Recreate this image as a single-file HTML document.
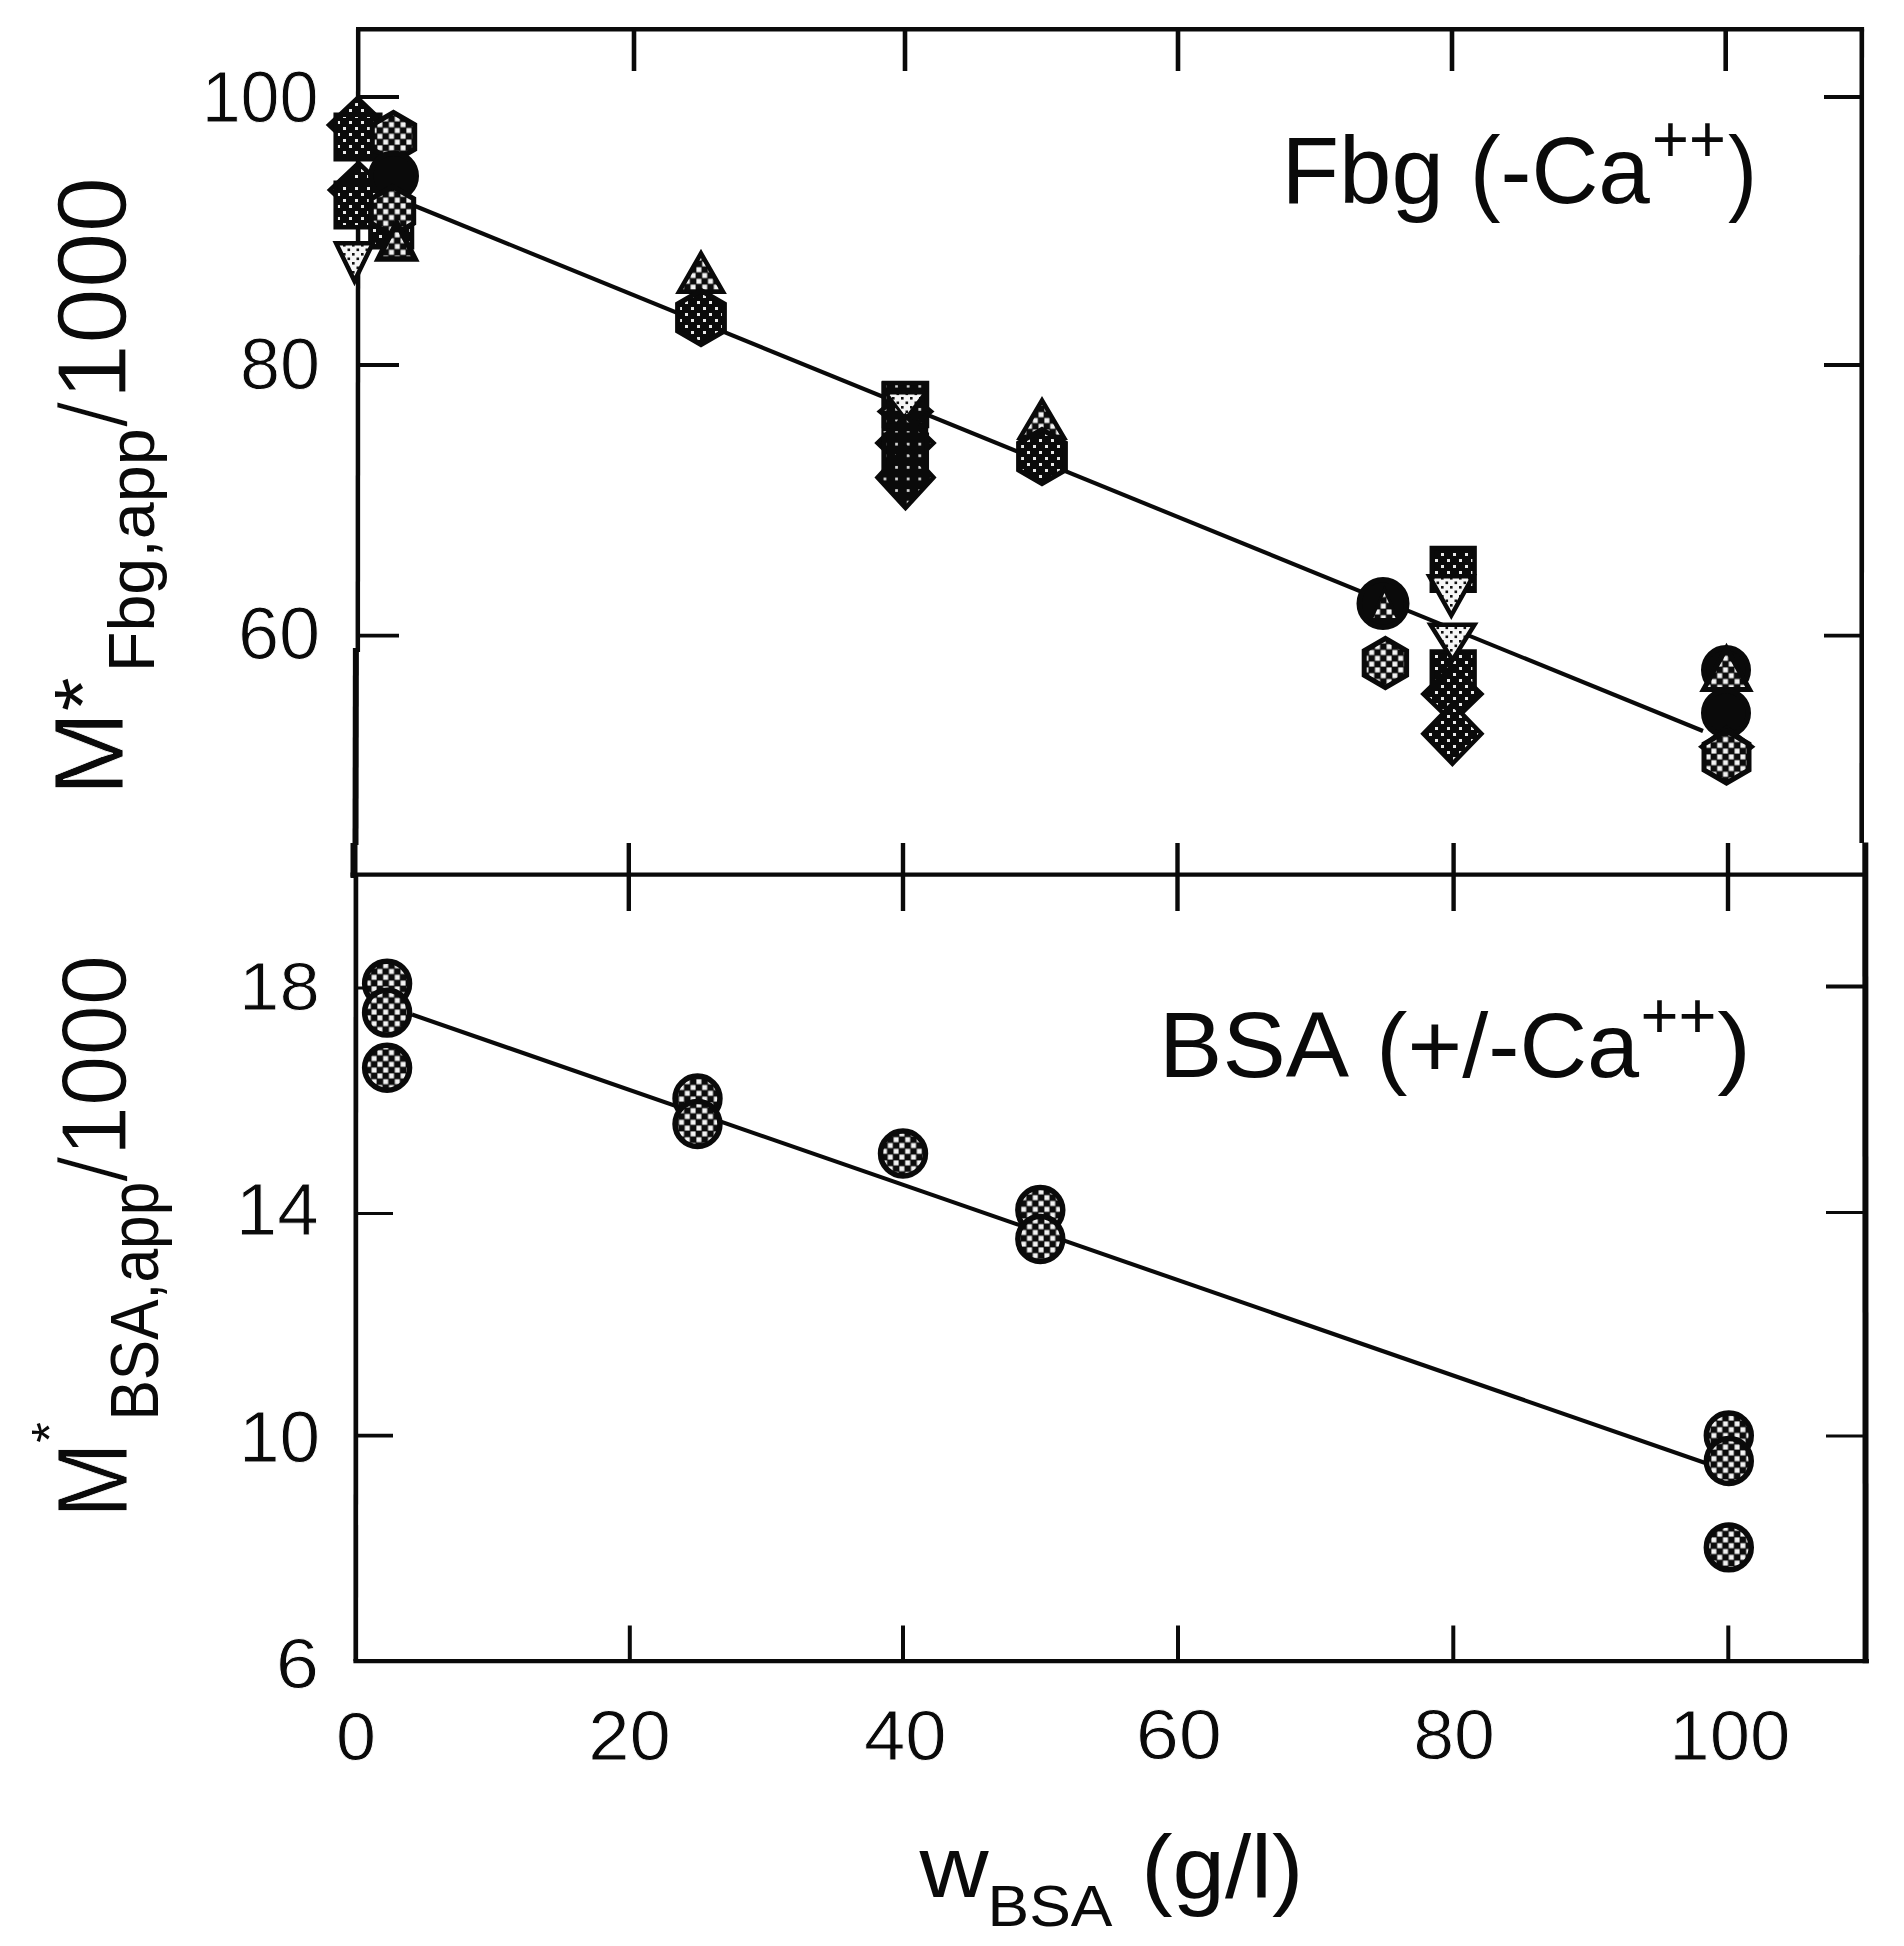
<!DOCTYPE html>
<html><head><meta charset="utf-8"><title>Apparent molecular weight vs BSA concentration</title>
<style>
html,body{margin:0;padding:0;background:#fff;overflow:hidden;width:1904px;height:1946px;}
svg{display:block;}
text{font-family:"Liberation Sans",sans-serif;fill:#0a0a0a;}
</style></head><body>
<svg width="1904" height="1946" viewBox="0 0 1904 1946">
<defs>
<pattern id="chk" width="11.6" height="11.6" patternUnits="userSpaceOnUse">
<rect width="11.6" height="11.6" fill="#0c0c0c"/>
<rect x="0.4" y="0.4" width="5" height="5" fill="#f2f2f2"/>
<rect x="6.2" y="6.2" width="5" height="5" fill="#f2f2f2"/>
</pattern>
<pattern id="dk" width="12" height="12" patternUnits="userSpaceOnUse">
<rect width="12" height="12" fill="#0a0a0a"/>
<rect x="1" y="1" width="3" height="3" fill="#e8e8e8"/>
<rect x="7" y="7" width="3" height="3" fill="#e8e8e8"/>
</pattern>
<pattern id="dk2" width="11.6" height="11.6" patternUnits="userSpaceOnUse">
<rect width="11.6" height="11.6" fill="#0a0a0a"/>
<rect x="2" y="2" width="2.7" height="2.7" fill="#ddd"/>
</pattern>
<pattern id="lt" width="9" height="9" patternUnits="userSpaceOnUse">
<rect width="9" height="9" fill="#f6f6f6"/>
<rect x="1" y="1" width="2.6" height="2.6" fill="#111"/>
<rect x="5.5" y="5.5" width="2.6" height="2.6" fill="#111"/>
</pattern>
</defs>
<rect width="1904" height="1946" fill="#fff"/>

<line x1="356.0" y1="29.3" x2="1864.1" y2="29.3" stroke="#0a0a0a" stroke-width="4.4" stroke-linecap="butt"/>
<line x1="350.5" y1="874.6" x2="1863" y2="874.6" stroke="#0a0a0a" stroke-width="4.3" stroke-linecap="butt"/>
<line x1="353.40000000000003" y1="1661.2" x2="1868.9" y2="1661.2" stroke="#0a0a0a" stroke-width="4.3" stroke-linecap="butt"/>
<line x1="358.2" y1="29.3" x2="357.8" y2="652" stroke="#0a0a0a" stroke-width="4.5" stroke-linecap="butt"/>
<line x1="355.9" y1="648" x2="355.5" y2="845" stroke="#0a0a0a" stroke-width="6.0" stroke-linecap="butt"/>
<line x1="354.0" y1="843" x2="354.0" y2="878" stroke="#0a0a0a" stroke-width="7" stroke-linecap="butt"/>
<line x1="355.9" y1="876" x2="355.8" y2="1661.2" stroke="#0a0a0a" stroke-width="4.7" stroke-linecap="butt"/>
<line x1="1861.8" y1="29.3" x2="1861.7" y2="843" stroke="#0a0a0a" stroke-width="4.6" stroke-linecap="butt"/>
<line x1="1865.3" y1="842.6" x2="1865.6" y2="1663.2" stroke="#0a0a0a" stroke-width="6.0" stroke-linecap="butt"/>
<line x1="634" y1="29.3" x2="634" y2="71" stroke="#0a0a0a" stroke-width="4.6" stroke-linecap="butt"/>
<line x1="905" y1="29.3" x2="905" y2="71" stroke="#0a0a0a" stroke-width="4.6" stroke-linecap="butt"/>
<line x1="1178" y1="29.3" x2="1178" y2="71" stroke="#0a0a0a" stroke-width="4.6" stroke-linecap="butt"/>
<line x1="1452" y1="29.3" x2="1452" y2="71" stroke="#0a0a0a" stroke-width="4.6" stroke-linecap="butt"/>
<line x1="1725.7" y1="29.3" x2="1725.7" y2="71" stroke="#0a0a0a" stroke-width="4.6" stroke-linecap="butt"/>
<line x1="628.8" y1="843" x2="628.8" y2="911" stroke="#0a0a0a" stroke-width="4.4" stroke-linecap="butt"/>
<line x1="903" y1="843" x2="903" y2="911" stroke="#0a0a0a" stroke-width="4.4" stroke-linecap="butt"/>
<line x1="1177.5" y1="843" x2="1177.5" y2="911" stroke="#0a0a0a" stroke-width="4.4" stroke-linecap="butt"/>
<line x1="1453.6" y1="843" x2="1453.6" y2="911" stroke="#0a0a0a" stroke-width="4.4" stroke-linecap="butt"/>
<line x1="1728" y1="843" x2="1728" y2="911" stroke="#0a0a0a" stroke-width="4.4" stroke-linecap="butt"/>
<line x1="629.8" y1="1625.5" x2="629.8" y2="1661.2" stroke="#0a0a0a" stroke-width="4" stroke-linecap="butt"/>
<line x1="903" y1="1625.5" x2="903" y2="1661.2" stroke="#0a0a0a" stroke-width="4" stroke-linecap="butt"/>
<line x1="1178" y1="1625.5" x2="1178" y2="1661.2" stroke="#0a0a0a" stroke-width="4" stroke-linecap="butt"/>
<line x1="1453.3" y1="1625.5" x2="1453.3" y2="1661.2" stroke="#0a0a0a" stroke-width="4" stroke-linecap="butt"/>
<line x1="1728.3" y1="1625.5" x2="1728.3" y2="1661.2" stroke="#0a0a0a" stroke-width="4" stroke-linecap="butt"/>
<line x1="358.2" y1="97" x2="399" y2="97" stroke="#0a0a0a" stroke-width="3.8" stroke-linecap="butt"/>
<line x1="1824" y1="97" x2="1861.8" y2="97" stroke="#0a0a0a" stroke-width="3.8" stroke-linecap="butt"/>
<line x1="358.2" y1="365" x2="399" y2="365" stroke="#0a0a0a" stroke-width="3.8" stroke-linecap="butt"/>
<line x1="1824" y1="365" x2="1861.8" y2="365" stroke="#0a0a0a" stroke-width="3.8" stroke-linecap="butt"/>
<line x1="358.2" y1="635.6" x2="399" y2="635.6" stroke="#0a0a0a" stroke-width="3.8" stroke-linecap="butt"/>
<line x1="1824" y1="635.6" x2="1861.8" y2="635.6" stroke="#0a0a0a" stroke-width="3.8" stroke-linecap="butt"/>
<line x1="355.8" y1="988" x2="393" y2="988" stroke="#0a0a0a" stroke-width="3.2" stroke-linecap="butt"/>
<line x1="1826" y1="986.5" x2="1865.5" y2="986.5" stroke="#0a0a0a" stroke-width="4" stroke-linecap="butt"/>
<line x1="355.8" y1="1213.5" x2="393" y2="1213.5" stroke="#0a0a0a" stroke-width="3.0" stroke-linecap="butt"/>
<line x1="1826" y1="1212.5" x2="1865.5" y2="1212.5" stroke="#0a0a0a" stroke-width="3.0" stroke-linecap="butt"/>
<line x1="355.8" y1="1435.7" x2="393" y2="1435.7" stroke="#0a0a0a" stroke-width="3.8" stroke-linecap="butt"/>
<line x1="1826" y1="1436" x2="1865.5" y2="1436" stroke="#0a0a0a" stroke-width="3.2" stroke-linecap="butt"/>
<line x1="415" y1="206" x2="1703" y2="731" stroke="#0a0a0a" stroke-width="4.1" stroke-linecap="butt"/>
<line x1="412" y1="1014.5" x2="1704.6" y2="1462.7" stroke="#0a0a0a" stroke-width="4.1" stroke-linecap="butt"/>
<circle cx="387.1" cy="983.6" r="22.45" fill="url(#chk)" stroke="#0a0a0a" stroke-width="5.5"/>
<circle cx="387.1" cy="1012.6" r="22.45" fill="url(#chk)" stroke="#0a0a0a" stroke-width="5.5"/>
<circle cx="387.1" cy="1067.7" r="22.45" fill="url(#chk)" stroke="#0a0a0a" stroke-width="5.5"/>
<circle cx="697.5" cy="1098.5" r="22.45" fill="url(#chk)" stroke="#0a0a0a" stroke-width="5.5"/>
<circle cx="697.5" cy="1124" r="22.45" fill="url(#chk)" stroke="#0a0a0a" stroke-width="5.5"/>
<circle cx="903" cy="1153.5" r="22.45" fill="url(#chk)" stroke="#0a0a0a" stroke-width="5.5"/>
<circle cx="1040.3" cy="1210" r="22.45" fill="url(#chk)" stroke="#0a0a0a" stroke-width="5.5"/>
<circle cx="1040.3" cy="1239" r="22.45" fill="url(#chk)" stroke="#0a0a0a" stroke-width="5.5"/>
<circle cx="1728.8" cy="1435.5" r="22.45" fill="url(#chk)" stroke="#0a0a0a" stroke-width="5.5"/>
<circle cx="1728.8" cy="1461" r="22.45" fill="url(#chk)" stroke="#0a0a0a" stroke-width="5.5"/>
<circle cx="1728.8" cy="1547.4" r="22.45" fill="url(#chk)" stroke="#0a0a0a" stroke-width="5.5"/>
<polygon points="357.5,98.0 386.0,125.0 357.5,152.0 329.0,125.0" fill="url(#dk)" stroke="#0a0a0a" stroke-width="4.5" stroke-linejoin="miter"/>
<polygon points="335.7,114.7 380.3,114.7 380.3,159.3 335.7,159.3" fill="url(#dk)" stroke="#0a0a0a" stroke-width="4.5" stroke-linejoin="miter"/>
<polygon points="393.5,112.5 414.7,124.8 414.7,149.2 393.5,161.5 372.3,149.2 372.3,124.8" fill="url(#chk)" stroke="#0a0a0a" stroke-width="5" stroke-linejoin="miter"/>
<polygon points="358.5,163.0 387.0,190.0 358.5,217.0 330.0,190.0" fill="url(#dk)" stroke="#0a0a0a" stroke-width="4.5" stroke-linejoin="miter"/>
<polygon points="335.7,182.7 380.3,182.7 380.3,227.3 335.7,227.3" fill="url(#dk)" stroke="#0a0a0a" stroke-width="4.5" stroke-linejoin="miter"/>
<circle cx="393.5" cy="176" r="22.75" fill="#0a0a0a" stroke="#0a0a0a" stroke-width="5.5"/>
<polygon points="370.4,205.7 412.0,205.7 412.0,247.3 370.4,247.3" fill="url(#dk)" stroke="#0a0a0a" stroke-width="4.5" stroke-linejoin="miter"/>
<polygon points="392.5,186.5 413.7,198.8 413.7,223.2 392.5,235.5 371.3,223.2 371.3,198.8" fill="url(#chk)" stroke="#0a0a0a" stroke-width="5" stroke-linejoin="miter"/>
<polygon points="396.6,222.6 415.1,258.9 378.2,258.9" fill="url(#chk)" stroke="#0a0a0a" stroke-width="5.5" stroke-linejoin="miter"/>
<polygon points="336.1,243.2 372.9,243.2 354.5,281.1" fill="url(#lt)" stroke="#0a0a0a" stroke-width="4.5" stroke-linejoin="miter"/>
<polygon points="701.0,253.4 723.0,291.8 679.0,291.8" fill="url(#chk)" stroke="#0a0a0a" stroke-width="4.5" stroke-linejoin="miter"/>
<polygon points="701.0,290.5 724.4,304.0 724.4,331.0 701.0,344.5 677.6,331.0 677.6,304.0" fill="url(#dk)" stroke="#0a0a0a" stroke-width="5" stroke-linejoin="miter"/>
<rect x="881.4" y="381.3" width="46.8" height="95" fill="url(#dk2)" stroke="#0a0a0a" stroke-width="0"/>
<polygon points="884.0,382.9 927.0,382.9 927.0,426.1 884.0,426.1" fill="url(#dk2)" stroke="#0a0a0a" stroke-width="4.5" stroke-linejoin="miter"/>
<polygon points="905.5,390.5 931.0,411.5 905.5,432.5 880.0,411.5" fill="url(#dk2)" stroke="#0a0a0a" stroke-width="4.5" stroke-linejoin="miter"/>
<polygon points="886.2,393.0 924.8,393.0 905.5,418.7" fill="url(#lt)" stroke="#0a0a0a" stroke-width="3" stroke-linejoin="miter"/>
<polygon points="905.5,416.0 933.5,443.0 905.5,470.0 877.5,443.0" fill="url(#dk2)" stroke="#0a0a0a" stroke-width="4.5" stroke-linejoin="miter"/>
<polygon points="884.2,434.7 926.8,434.7 926.8,477.3 884.2,477.3" fill="url(#dk2)" stroke="#0a0a0a" stroke-width="4.5" stroke-linejoin="miter"/>
<polygon points="905.5,447.0 933.5,477.5 905.5,508.0 877.5,477.5" fill="url(#dk2)" stroke="#0a0a0a" stroke-width="4.5" stroke-linejoin="miter"/>
<polygon points="1042.0,400.4 1064.0,437.8 1020.0,437.8" fill="url(#chk)" stroke="#0a0a0a" stroke-width="4.5" stroke-linejoin="miter"/>
<polygon points="1042.0,429.5 1065.4,443.0 1065.4,470.0 1042.0,483.5 1018.6,470.0 1018.6,443.0" fill="url(#dk)" stroke="#0a0a0a" stroke-width="5" stroke-linejoin="miter"/>
<circle cx="1383" cy="603.5" r="23.75" fill="#0a0a0a" stroke="#0a0a0a" stroke-width="5.5"/>
<polygon points="1384.5,589.3 1397.8,619.5 1371.2,619.5" fill="url(#chk)" stroke="#0a0a0a" stroke-width="3" stroke-linejoin="miter"/>
<polygon points="1385.4,638.5 1406.6,650.8 1406.6,675.2 1385.4,687.5 1364.2,675.2 1364.2,650.8" fill="url(#chk)" stroke="#0a0a0a" stroke-width="5" stroke-linejoin="miter"/>
<polygon points="1431.8,548.0 1474.6,548.0 1474.6,590.8 1431.8,590.8" fill="url(#dk)" stroke="#0a0a0a" stroke-width="4.5" stroke-linejoin="miter"/>
<polygon points="1429.3,576.2 1473.2,576.2 1451.3,615.5" fill="url(#lt)" stroke="#0a0a0a" stroke-width="4.5" stroke-linejoin="miter"/>
<polygon points="1431.8,651.6 1474.6,651.6 1474.6,694.4 1431.8,694.4" fill="url(#dk)" stroke="#0a0a0a" stroke-width="4.5" stroke-linejoin="miter"/>
<polygon points="1430.5,624.8 1474.5,624.8 1452.5,660.0" fill="url(#lt)" stroke="#0a0a0a" stroke-width="4.5" stroke-linejoin="miter"/>
<polygon points="1452.4,666.0 1481.4,694.0 1452.4,722.0 1423.4,694.0" fill="url(#dk)" stroke="#0a0a0a" stroke-width="4.5" stroke-linejoin="miter"/>
<polygon points="1452.4,703.7 1481.4,733.7 1452.4,763.7 1423.4,733.7" fill="url(#dk)" stroke="#0a0a0a" stroke-width="4.5" stroke-linejoin="miter"/>
<circle cx="1726" cy="670" r="22.25" fill="#0a0a0a" stroke="#0a0a0a" stroke-width="5.5"/>
<polygon points="1726.5,648.0 1749.5,689.5 1703.5,689.5" fill="url(#chk)" stroke="#0a0a0a" stroke-width="5" stroke-linejoin="miter"/>
<circle cx="1726" cy="713" r="22.25" fill="#0a0a0a" stroke="#0a0a0a" stroke-width="5.5"/>
<polygon points="1726.7,727.7 1751.7,746.7 1726.7,765.7 1701.7,746.7" fill="url(#dk)" stroke="#0a0a0a" stroke-width="4.5" stroke-linejoin="miter"/>
<polygon points="1726.5,731.0 1749.0,744.0 1749.0,770.0 1726.5,783.0 1704.0,770.0 1704.0,744.0" fill="url(#chk)" stroke="#0a0a0a" stroke-width="5" stroke-linejoin="miter"/>
<text transform="translate(201.63,122.00) scale(0.9732,1.0000)" font-size="72" stroke="#fff" stroke-width="0.9">100</text>
<text transform="translate(240.00,388.70) scale(1.0000,1.0039)" font-size="72" stroke="#fff" stroke-width="0.9">80</text>
<text transform="translate(237.89,659.00) scale(1.0274,1.0196)" font-size="72" stroke="#fff" stroke-width="0.9">60</text>
<text transform="translate(239.07,1009.80) scale(1.0069,0.9412)" font-size="72" stroke="#fff" stroke-width="0.9">18</text>
<text transform="translate(235.82,1235.30) scale(1.0356,1.0180)" font-size="72" stroke="#fff" stroke-width="0.9">14</text>
<text transform="translate(238.93,1461.50) scale(1.0139,1.0000)" font-size="72" stroke="#fff" stroke-width="0.9">10</text>
<text transform="translate(275.87,1687.60) scale(1.0818,0.9882)" font-size="72" stroke="#fff" stroke-width="0.9">6</text>
<text transform="translate(336.00,1760.00) scale(1.0000,0.9647)" font-size="72" stroke="#fff" stroke-width="0.9">0</text>
<text transform="translate(588.17,1760.00) scale(1.0315,0.9804)" font-size="72" stroke="#fff" stroke-width="0.9">20</text>
<text transform="translate(863.94,1760.00) scale(1.0320,0.9804)" font-size="72" stroke="#fff" stroke-width="0.9">40</text>
<text transform="translate(1135.69,1758.70) scale(1.0781,0.9882)" font-size="72" stroke="#fff" stroke-width="0.9">60</text>
<text transform="translate(1413.14,1758.70) scale(1.0216,0.9882)" font-size="72" stroke="#fff" stroke-width="0.9">80</text>
<text transform="translate(1669.36,1759.50) scale(1.0080,0.9902)" font-size="72" stroke="#fff" stroke-width="0.9">100</text>
<text transform="translate(1281.47,202.98) scale(0.9418,0.9532)" font-size="100">Fbg</text>
<text transform="translate(1469.74,202.54) scale(0.9266,0.9457)" font-size="100">(-Ca</text>
<text transform="translate(1652.04,161.85) scale(1.0531,1.1103)" font-size="60">++</text>
<text transform="translate(1728.03,202.56) scale(0.8731,0.9447)" font-size="100">)</text>
<text transform="translate(1159.09,1076.83) scale(0.9891,0.9652)" font-size="96">BSA</text>
<text transform="translate(1376.35,1076.59) scale(0.9757,0.9456)" font-size="96">(+/-Ca</text>
<text transform="translate(1640.55,1037.83) scale(1.0844,1.0655)" font-size="60">++</text>
<text transform="translate(1717.14,1076.59) scale(1.0600,0.9456)" font-size="96">)</text>
<text transform="translate(919.40,1896.90) scale(1.0875,0.9978)" font-size="88">w</text>
<text transform="translate(987.52,1925.70) scale(1.0954,1.0175)" font-size="57">BSA</text>
<text transform="translate(1141.15,1898.12) scale(1.0709,1.0210)" font-size="88">(g/l)</text>
<text transform="translate(122.70,795.96) rotate(-90) scale(1.0194,0.9812)" font-size="100" stroke="#fff" stroke-width="0.8">M</text>
<text transform="translate(109.76,711.13) rotate(-90) scale(0.9152,0.8424)" font-size="95">*</text>
<text transform="translate(154.31,672.19) rotate(-90) scale(1.0383,1.0067)" font-size="64">Fbg,app</text>
<text transform="translate(126.90,428.30) rotate(-90) scale(1.0462,1.0420)" font-size="95" stroke="#fff" stroke-width="2.6">/</text>
<text transform="translate(125.86,399.68) rotate(-90) scale(1.0547,1.0373)" font-size="95" stroke="#fff" stroke-width="1.2">1000</text>
<text transform="translate(127.20,1517.88) rotate(-90) scale(0.9104,1.0072)" font-size="100" stroke="#fff" stroke-width="0.8">M</text>
<text transform="translate(67.08,1442.68) rotate(-90) scale(0.9842,0.9211)" font-size="54">*</text>
<text transform="translate(157.80,1420.53) rotate(-90) scale(0.9457,1.0845)" font-size="64">BSA,app</text>
<text transform="translate(127.20,1182.90) rotate(-90) scale(1.0462,1.0420)" font-size="95" stroke="#fff" stroke-width="2.6">/</text>
<text transform="translate(125.63,1156.27) rotate(-90) scale(0.9527,0.9746)" font-size="95" stroke="#fff" stroke-width="1.2">1000</text>
</svg></body></html>
